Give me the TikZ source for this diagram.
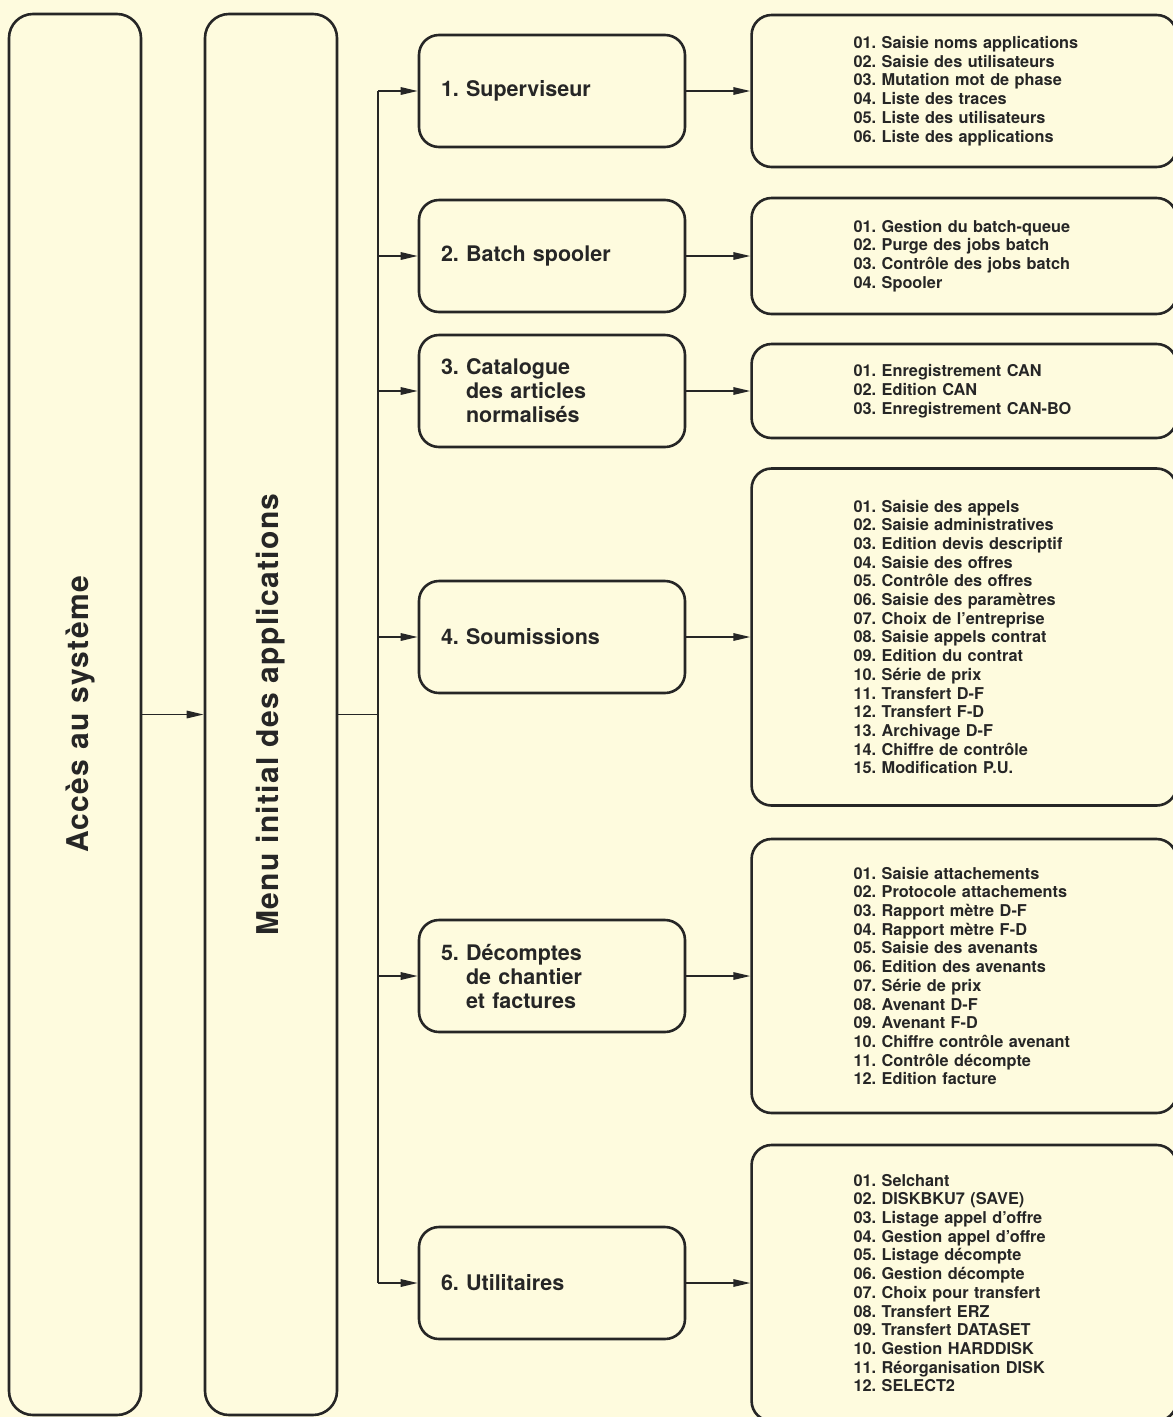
\documentclass[tikz,border=0pt]{standalone}
\usepackage{fontspec}
\setmainfont{TeX Gyre Heros}
\usetikzlibrary{arrows.meta,positioning,calc}
\definecolor{paper}{RGB}{254,251,222}
\definecolor{ink}{RGB}{38,38,38}
\frenchspacing

\begin{document}
\begin{tikzpicture}[x=1pt,y=-1pt,% pixel units, y pointing down
	every node/.style={text=ink},
	bigbox/.style={rectangle,rounded corners=24pt,draw=ink,line width=2.6pt,
		minimum width=132pt,minimum height=1401pt},
	vlabel/.style={rotate=90,font=\fontsize{30}{33}\selectfont\bfseries\addfontfeature{LetterSpace=4.5}},
	appbox/.style={rectangle,rounded corners=20pt,draw=ink,line width=2.6pt,
		minimum width=266pt,minimum height=112pt,text width=222pt,inner xsep=22pt,
		align=left,font=\fontsize{21.5}{24}\selectfont\bfseries},
	listbox/.style={rectangle,rounded corners=20pt,draw=ink,line width=2.6pt,
		minimum width=425pt,text width=425pt,inner xsep=0pt,align=left,
		font=\fontsize{16.3}{18.7}\selectfont\bfseries,
		execute at begin node={\leftskip=102pt}},
	link/.style={draw=ink,line width=1.6pt},
	arrow/.style={link,-{Triangle[length=17pt,width=7.5pt]}}
	]
	\useasboundingbox (0,0) rectangle (1173,1417);
	\fill[paper] (0,0) rectangle (1173,1417);

	% the two tall columns
	\node[bigbox,label={[vlabel,yshift=-6pt]center:Accès au système}](acces) at (75,714.5) {};
	\node[bigbox,label={[vlabel]center:Menu initial des applications}](menu) at (271,714.5) {};

	% applications
	\node[appbox](m1) at (552,91) {1. Superviseur};
	\node[appbox](m2) at (552,256) {2. Batch spooler};
	\node[appbox](m3) at (552,391) {3. Catalogue\\\phantom{3. }des articles\\\phantom{3. }normalisés};
	\node[appbox](m4) at (552,637) {4. Soumissions};
	\node[appbox](m5) at (552,976) {5. Décomptes\\\phantom{5. }de chantier\\\phantom{5. }et factures};
	\node[appbox](m6) at (552,1283) {6. Utilitaires};

	% programs of each application
	\node[listbox,minimum height=152pt](r1)[right=64pt of m1]{01. Saisie noms applications\\02. Saisie des utilisateurs\\03. Mutation mot de phase\\04. Liste des traces\\05. Liste des utilisateurs\\06. Liste des applications};
	\node[listbox,minimum height=116pt](r2)[right=64pt of m2]{01. Gestion du batch-queue\\02. Purge des jobs batch\\03. Contrôle des jobs batch\\04. Spooler};
	\node[listbox,minimum height=94pt](r3)[right=64pt of m3]{01. Enregistrement CAN\\02. Edition CAN\\03. Enregistrement CAN-BO};
	\node[listbox,minimum height=337pt](r4)[right=64pt of m4]{01. Saisie des appels\\02. Saisie administratives\\03. Edition devis descriptif\\04. Saisie des offres\\05. Contrôle des offres\\06. Saisie des paramètres\\07. Choix de l'entreprise\\08. Saisie appels contrat\\09. Edition du contrat\\10. Série de prix\\11. Transfert D-F\\12. Transfert F-D\\13. Archivage D-F\\14. Chiffre de contrôle\\15. Modification P.U.};
	\node[listbox,minimum height=274pt](r5)[right=64pt of m5]{01. Saisie attachements\\02. Protocole attachements\\03. Rapport mètre D-F\\04. Rapport mètre F-D\\05. Saisie des avenants\\06. Edition des avenants\\07. Série de prix\\08. Avenant D-F\\09. Avenant F-D\\10. Chiffre contrôle avenant\\11. Contrôle décompte\\12. Edition facture};
	\node[listbox,minimum height=276pt](r6)[right=64pt of m6]{01. Selchant\\02. DISKBKU7 (SAVE)\\03. Listage appel d'offre\\04. Gestion appel d'offre\\05. Listage décompte\\06. Gestion décompte\\07. Choix pour transfert\\08. Transfert ERZ\\09. Transfert DATASET\\10. Gestion HARDDISK\\11. Réorganisation DISK\\12. SELECT2};

	% connectors
	\coordinate (trunk) at (378,714.5);
	\draw[arrow] (acces) -- (menu);
	\draw[link] (menu.east) -- (trunk);
	\draw[link] (trunk |- m1) -- (trunk |- m6);
	\foreach \i in {1,...,6}{
		\draw[arrow] (trunk |- m\i) -- (m\i.west);
		\draw[arrow] (m\i) -- (r\i);
	}
\end{tikzpicture}
\end{document}
